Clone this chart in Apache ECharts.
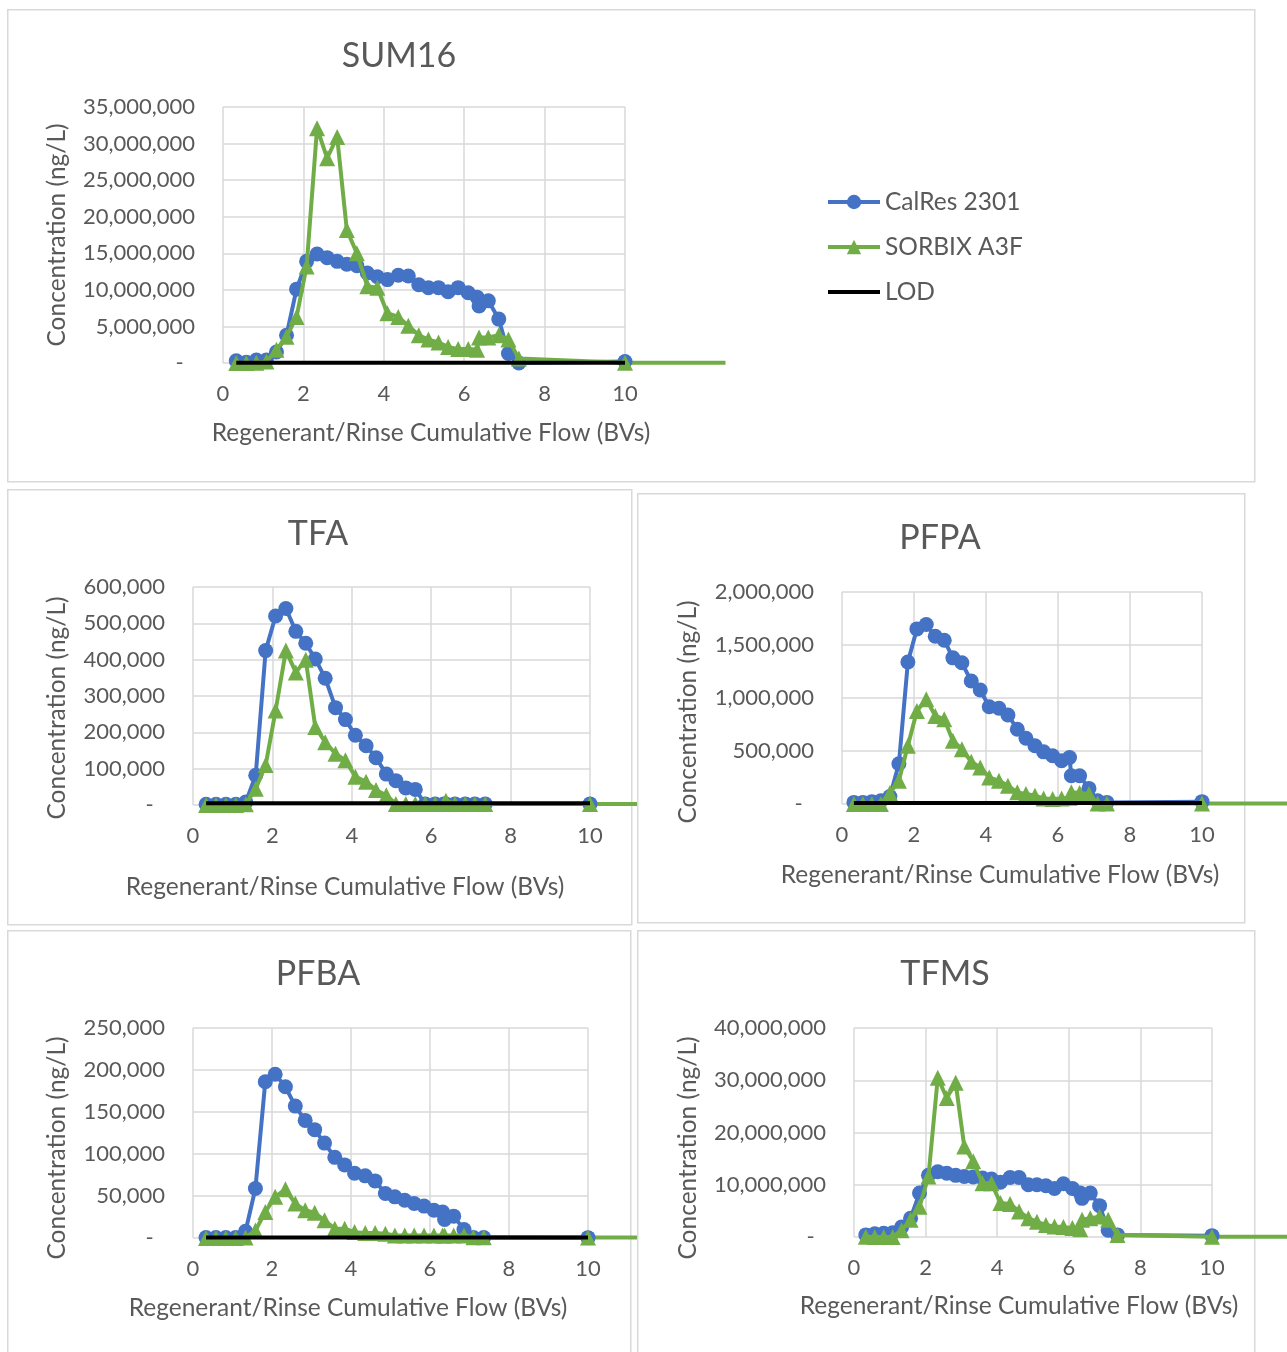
<!DOCTYPE html>
<html>
<head>
<meta charset="utf-8">
<script src="https://cdn.jsdelivr.net/npm/echarts@6/dist/echarts.min.js"></script>
<style>
  html, body { margin: 0; padding: 0; background: #fff; }
  body { width: 1287px; height: 1352px; position: relative; overflow: hidden; }
  .chart { position: absolute; }
</style>
</head>
<body>
<div id="c_sum16" class="chart"></div>
<div id="c_tfa" class="chart"></div>
<div id="c_pfpa" class="chart"></div>
<div id="c_pfba" class="chart"></div>
<div id="c_tfms" class="chart"></div>
<script>
// cumulative flow (BVs) of each sample, same for both resins
var flowBV = [0.33, 0.58, 0.83, 1.08, 1.33, 1.58, 1.83, 2.08, 2.34, 2.59, 2.84, 3.08, 3.33, 3.59, 3.84, 4.09,
  4.36, 4.61, 4.87, 5.11, 5.36, 5.6, 5.85, 6.1, 6.32, 6.37, 6.6, 6.86, 7.1, 7.36, 10];
var flowTail = 12.5;       // last SORBIX point, drawn past the axis max like in Excel
var lodFlow = [0.33, 10];
var xTicks = [0, 10, 2];   // min, max, interval

// SUM16 (ng/L)
var sum16CalRes = [300000, 100000, 400000, 400000, 1500000, 3800000, 10100000, 13900000, 14900000, 14400000,
  13900000, 13500000, 13300000, 12300000, 11800000, 11400000, 12000000, 11900000, 10700000, 10300000,
  10300000, 9750000, 10300000, 9600000, 9000000, 7800000, 8500000, 6000000, 1300000, 0, 200000];
var sum16Sorbix = [0, 0, 50000, 200000, 1800000, 3600000, 6300000, 13200000, 32100000, 28000000,
  30900000, 18200000, 15000000, 10500000, 10300000, 6800000, 6300000, 5100000, 3800000, 3200000,
  2800000, 2200000, 1900000, 1900000, 1800000, 3500000, 3500000, 3800000, 3200000, 600000, 50000, 50000];
var sum16LOD = 20000;

// TFA
var tfaCalRes = [2000, 2000, 2000, 2000, 8000, 82000, 425000, 520000, 541000, 478000, 445000, 402000,
  349000, 268000, 235000, 192000, 163000, 130000, 85000, 67000, 47000, 43000, 3000, 3000, 3000, 3000,
  3000, 3000, 3000, 3000, 3000];
var tfaSorbix = [0, 0, 0, 0, 2000, 45000, 110000, 260000, 425000, 365000, 400000, 215000, 173000, 141000,
  123000, 78000, 64000, 41000, 27000, 3000, 3000, 3000, 3000, 3000, 3000, 12000, 3000, 3000, 3000, 3000,
  3000, 3000];
var tfaLOD = 5000;

// PFPA
var pfpaCalRes = [15000, 15000, 22000, 30000, 70000, 380000, 1339000, 1652000, 1693000, 1583000, 1545000,
  1379000, 1332000, 1160000, 1075000, 918000, 903000, 840000, 705000, 620000, 549000, 492000, 455000,
  408000, 439000, 266000, 266000, 147000, 31000, 15000, 22000];
var pfpaSorbix = [0, 0, 0, 0, 103000, 219000, 549000, 878000, 988000, 831000, 800000, 596000, 517000,
  398000, 345000, 251000, 219000, 172000, 110000, 94000, 78000, 53000, 47000, 53000, 60000, 110000,
  103000, 94000, 5000, 5000, 5000, 5000];
var pfpaLOD = 10000;

// PFBA
var pfbaCalRes = [500, 500, 500, 500, 8000, 59000, 186000, 195000, 180000, 157000, 140000, 129000, 113000,
  96000, 87000, 77000, 74000, 68000, 53000, 49000, 45000, 41000, 38000, 33000, 31000, 22000, 26000, 10000,
  500, 500, 400];
var pfbaSorbix = [0, 0, 0, 0, 500, 9000, 31000, 49000, 58000, 41000, 33000, 30000, 21000, 11000, 11000,
  7000, 6000, 6000, 5000, 3000, 3000, 3000, 3000, 3000, 3000, 3000, 3000, 3000, 1000, 1000, 500, 500];
var pfbaLOD = 500;

// TFMS (no LOD line)
var tfmsCalRes = [400000, 600000, 700000, 800000, 1900000, 3600000, 8400000, 11800000, 12500000, 12200000,
  11800000, 11600000, 11500000, 11300000, 11100000, 10500000, 11400000, 11400000, 10000000, 10000000,
  9800000, 9300000, 10200000, 9300000, 8400000, 7400000, 8400000, 6000000, 1300000, 400000, 260000];
var tfmsSorbix = [50000, 0, 0, 0, 1300000, 3300000, 5800000, 11600000, 30500000, 26600000, 29500000,
  17300000, 14500000, 10300000, 10300000, 6500000, 6300000, 4900000, 3600000, 2900000, 2300000, 2000000,
  1900000, 1700000, 1500000, 3300000, 3600000, 3900000, 3300000, 400000, 60000, 50000];

var seriesNames = ['CalRes 2301', 'SORBIX A3F', 'LOD'];
var xTitle = 'Regenerant/Rinse Cumulative Flow (BVs)';
var yTitle = 'Concentration (ng/L)';

var FONT = 'Lato, "Open Sans", sans-serif';
var TXT = '#595959';
var BLUE = '#4472C4', GREEN = '#70AD47';

function commas(v) {
  if (v === 0) return '-  ';
  return String(v).replace(/\B(?=(\d{3})+(?!\d))/g, ',');
}

function pairs(xs, ys) {
  var out = [];
  for (var i = 0; i < xs.length; i++) out.push([xs[i], ys[i]]);
  return out;
}

// all positions are page coordinates, shifted into each div
function makeChart(id, cfg) {
  var dx = cfg.div[0], dy = cfg.div[1];
  var el = document.getElementById(id);
  el.style.left = dx + 'px';
  el.style.top = dy + 'px';
  el.style.width = cfg.div[2] + 'px';
  el.style.height = cfg.div[3] + 'px';
  var chart = echarts.init(el);

  var gl = cfg.grid[0] - dx, gt = cfg.grid[1] - dy, gw = cfg.grid[2], gh = cfg.grid[3];
  var tailW = gw * (flowTail - xTicks[1]) / (xTicks[1] - xTicks[0]);
  var n = flowBV.length;

  var series = [
    {
      name: seriesNames[0], type: 'line', data: pairs(flowBV, cfg.calres),
      symbol: 'circle', symbolSize: 15, color: BLUE,
      lineStyle: { width: 4, color: BLUE }, itemStyle: { color: BLUE, borderWidth: 0 },
      clip: false, z: 3
    },
    {
      name: seriesNames[1], type: 'line', data: pairs(flowBV, cfg.sorbix),
      symbol: 'triangle', symbolSize: 16, color: GREEN,
      lineStyle: { width: 4, color: GREEN }, itemStyle: { color: GREEN, borderWidth: 0 },
      clip: false, z: 4
    },
    {
      // the bit of the SORBIX line beyond x = 10
      name: seriesNames[1], type: 'line', xAxisIndex: 1, yAxisIndex: 1,
      data: [[flowBV[n - 1], cfg.sorbix[n - 1]], [flowTail, cfg.sorbix[n]]],
      symbol: 'none', color: GREEN, lineStyle: { width: 4, color: GREEN }, clip: false, z: 3
    }
  ];
  if (cfg.lod !== null) {
    series.push({
      name: seriesNames[2], type: 'line', data: [[lodFlow[0], cfg.lod], [lodFlow[1], cfg.lod]],
      symbol: 'none', color: '#000', lineStyle: { width: 4, color: '#000' }, clip: false, z: 5
    });
  }

  var option = {
    animation: false,
    backgroundColor: 'transparent',
    textStyle: { fontFamily: FONT },
    grid: [
      { left: gl, top: gt, width: gw, height: gh },
      { left: gl + gw, top: gt, width: tailW, height: gh }
    ],
    xAxis: [
      {
        type: 'value', min: xTicks[0], max: xTicks[1], interval: xTicks[2],
        axisLine: { show: false }, axisTick: { show: false },
        axisLabel: { color: TXT, fontSize: 22, fontFamily: FONT, margin: 20 },
        splitLine: { show: true, lineStyle: { color: '#d9d9d9', width: 1.5 } }
      },
      { type: 'value', gridIndex: 1, min: xTicks[1], max: flowTail, show: false }
    ],
    yAxis: [
      {
        type: 'value', min: 0, max: cfg.yMax, interval: cfg.yStep,
        axisLine: { show: false }, axisTick: { show: false },
        axisLabel: { color: TXT, fontSize: 22, fontFamily: FONT, margin: 28, formatter: commas },
        splitLine: { show: true, lineStyle: { color: '#d9d9d9', width: 1.5 } }
      },
      { type: 'value', gridIndex: 1, min: 0, max: cfg.yMax, show: false }
    ],
    graphic: [
      {
        type: 'rect', z: -10, silent: true,
        shape: { x: cfg.box[0] - dx, y: cfg.box[1] - dy, width: cfg.box[2], height: cfg.box[3] },
        style: { fill: '#fff', stroke: '#d9d9d9', lineWidth: 1.5 }
      },
      {
        type: 'text', x: cfg.title[1] - dx, y: cfg.title[2] - dy, silent: true,
        style: { text: cfg.title[0], fill: TXT, fontSize: 34, fontFamily: FONT, align: 'center', verticalAlign: 'middle' }
      },
      {
        type: 'text', x: cfg.yName[0] - dx, y: cfg.yName[1] - dy, rotation: Math.PI / 2, silent: true,
        style: { text: yTitle, fill: TXT, fontSize: 24.5, fontFamily: FONT, align: 'center', verticalAlign: 'middle' }
      },
      {
        type: 'text', x: cfg.xName[0] - dx, y: cfg.xName[1] - dy, silent: true,
        style: { text: xTitle, fill: TXT, fontSize: 24.5, fontFamily: FONT, align: 'center', verticalAlign: 'middle' }
      }
    ],
    series: series
  };

  if (cfg.legend) {
    option.legend = {
      orient: 'vertical', left: cfg.legend[0] - dx, top: cfg.legend[1] - dy,
      itemWidth: 52, itemHeight: 18, itemGap: 19,
      lineStyle: { width: 4 },
      textStyle: { fontSize: 24.5, color: TXT, fontFamily: FONT, lineHeight: 26 },
      data: [seriesNames[0], seriesNames[1], { name: seriesNames[2], itemStyle: { opacity: 0 } }]
    };
  }

  chart.setOption(option);
  return chart;
}

makeChart('c_sum16', {
  div: [7, 9, 1280, 475], box: [7.75, 9.75, 1247, 472],
  grid: [223, 107, 402, 256], yMax: 35000000, yStep: 5000000,
  title: ['SUM16', 399, 56], yName: [57, 235], xName: [431, 433],
  calres: sum16CalRes, sorbix: sum16Sorbix, lod: sum16LOD, legend: [821, 184]
});
makeChart('c_tfa', {
  div: [7, 489, 1280, 437], box: [7.75, 489.75, 624, 435],
  grid: [193, 587, 397, 218], yMax: 600000, yStep: 100000,
  title: ['TFA', 318, 534], yName: [57, 708], xName: [345, 887],
  calres: tfaCalRes, sorbix: tfaSorbix, lod: tfaLOD
});
makeChart('c_pfpa', {
  div: [637, 493, 650, 431], box: [637.75, 493.75, 607, 429],
  grid: [842, 592, 360, 212], yMax: 2000000, yStep: 500000,
  title: ['PFPA', 940, 538], yName: [688, 712], xName: [1000, 875],
  calres: pfpaCalRes, sorbix: pfpaSorbix, lod: pfpaLOD
});
makeChart('c_pfba', {
  div: [7, 930, 1280, 422], box: [7.75, 930.75, 623, 440],
  grid: [193, 1028, 395, 210], yMax: 250000, yStep: 50000,
  title: ['PFBA', 318, 974], yName: [57, 1148], xName: [348, 1308],
  calres: pfbaCalRes, sorbix: pfbaSorbix, lod: pfbaLOD
});
makeChart('c_tfms', {
  div: [637, 930, 650, 422], box: [637.75, 930.75, 617, 440],
  grid: [854, 1028, 358, 209], yMax: 40000000, yStep: 10000000,
  title: ['TFMS', 945, 974], yName: [688, 1148], xName: [1019, 1306],
  calres: tfmsCalRes, sorbix: tfmsSorbix, lod: null
});
</script>
</body>
</html>
